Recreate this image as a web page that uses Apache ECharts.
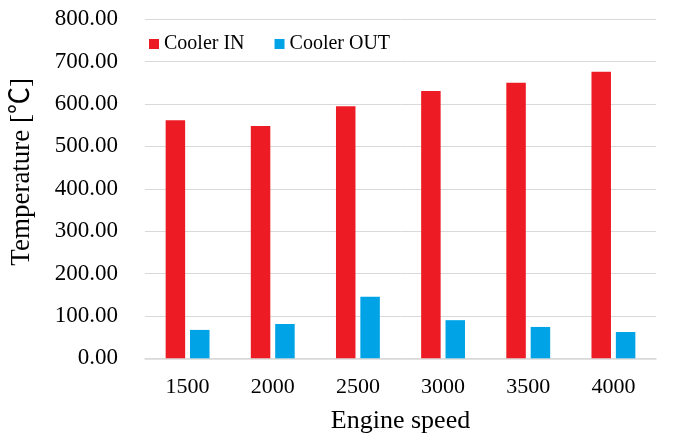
<!DOCTYPE html>
<html><head><meta charset="utf-8">
<script src="https://cdn.jsdelivr.net/npm/echarts@6/dist/echarts.min.js"></script>
<style>html,body{margin:0;padding:0;background:#fff}#c{width:685px;height:442px}</style>
</head><body><div id="c"></div>
<script>
var categories = ['1500','2000','2500','3000','3500','4000'];
var coolerIn = [562, 548, 595, 631, 650, 676];
var coolerOut = [67, 81, 145, 90, 74, 62];
var yTicks = {min: 0, max: 800, interval: 100};
var font = '"Liberation Serif", "Times New Roman", serif';
var titleFont = '"Liberation Serif", "Noto Sans CJK JP", serif';
var chart = echarts.init(document.getElementById('c'));
chart.setOption({
  animation: false,
  backgroundColor: '#fff',
  textStyle: {fontFamily: font, color: '#000'},
  grid: {left: 144, right: 29, top: 19.3, bottom: 83.7, containLabel: false},
  legend: {
    left: 144, top: 29, itemWidth: 10, itemHeight: 10, itemGap: 30,
    icon: 'rect',
    textStyle: {fontFamily: font, fontSize: 20, color: '#000'},
    data: ['Cooler IN', 'Cooler OUT']
  },
  xAxis: {
    type: 'category', data: categories,
    axisLine: {lineStyle: {color: '#d9d9d9', width: 1.5}},
    axisTick: {show: false},
    axisLabel: {fontFamily: font, fontSize: 22, color: '#000', margin: 18},
    name: 'Engine speed', nameLocation: 'middle', nameGap: 50,
    nameTextStyle: {fontFamily: font, fontSize: 26, color: '#000'}
  },
  yAxis: {
    type: 'value', min: yTicks.min, max: yTicks.max, interval: yTicks.interval,
    axisLine: {show: false}, axisTick: {show: false},
    splitLine: {lineStyle: {color: '#d9d9d9', width: 1}},
    axisLabel: {fontFamily: font, fontSize: 23, color: '#000', margin: 27,
      formatter: function (v) { return v.toFixed(2); }},
    name: 'Temperature [℃]', nameLocation: 'middle', nameGap: 110, nameRotate: 90,
    nameTextStyle: {fontFamily: titleFont, fontSize: 27, color: '#000', padding: [0, 0, 0, 34]}
  },
  series: [
    {name: 'Cooler IN', type: 'bar', data: coolerIn, barWidth: 19.5, barGap: '25%',
     itemStyle: {color: '#ED1C24'}},
    {name: 'Cooler OUT', type: 'bar', data: coolerOut, barWidth: 19.5, barGap: '25%',
     itemStyle: {color: '#00A3E6'}}
  ]
});
</script></body></html>
